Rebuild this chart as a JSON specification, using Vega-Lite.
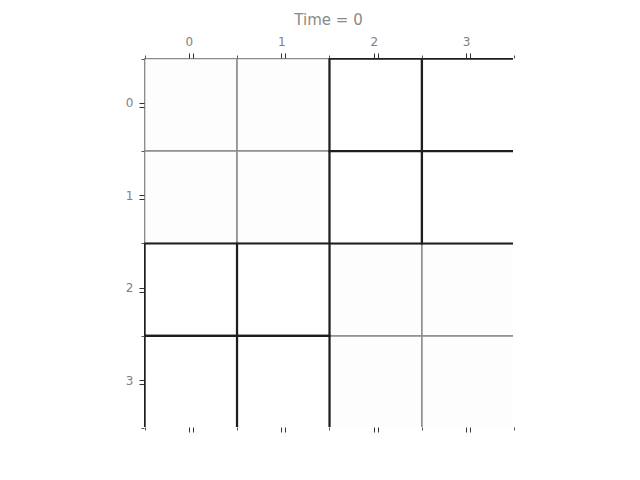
{
  "$schema": "https://vega.github.io/schema/vega-lite/v6.json",
  "width": 369,
  "height": 369,
  "autosize": {"type": "none"},
  "padding": {"left": 144, "top": 58, "right": 127, "bottom": 53},
  "background": "white",
  "title": {"text": "Time = 0", "anchor": "middle", "font": "DejaVu Sans", "fontSize": 15, "fontWeight": "normal", "color": "#8a8a8a", "offset": 7},
  "config": {"view": {"stroke": null, "fill": "#fdfdfd"}, "axis": {"grid": false, "domain": false, "labelFont": "DejaVu Sans", "labelFontSize": 12, "labelColor": "#808080", "tickColor": "#333333", "tickWidth": 1, "title": null, "labelAngle": 0}},
  "data": {"values": [
    {"row": 0, "col": 0, "kind": "gray"}, {"row": 0, "col": 1, "kind": "gray"}, {"row": 0, "col": 2, "kind": "black"}, {"row": 0, "col": 3, "kind": "black"},
    {"row": 1, "col": 0, "kind": "gray"}, {"row": 1, "col": 1, "kind": "gray"}, {"row": 1, "col": 2, "kind": "black"}, {"row": 1, "col": 3, "kind": "black"},
    {"row": 2, "col": 0, "kind": "black"}, {"row": 2, "col": 1, "kind": "black"}, {"row": 2, "col": 2, "kind": "gray"}, {"row": 2, "col": 3, "kind": "gray"},
    {"row": 3, "col": 0, "kind": "black"}, {"row": 3, "col": 1, "kind": "black"}, {"row": 3, "col": 2, "kind": "gray"}, {"row": 3, "col": 3, "kind": "gray"}
  ]},
  "resolve": {"axis": {"x": "independent", "y": "independent"}},
  "layer": [
    {
      "transform": [{"filter": "datum.kind == 'gray'"}],
      "mark": {"type": "rect", "fill": "#fdfdfd", "stroke": "#8c8c8c", "strokeWidth": 1.5, "clip": true},
      "encoding": {
        "x": {"field": "col", "type": "ordinal", "scale": {"paddingInner": 0, "paddingOuter": 0, "range": [0.6, 370.4]}, "axis": {"orient": "top", "tickOffset": -2, "tickSize": 5, "labelPadding": 5}},
        "y": {"field": "row", "type": "ordinal", "scale": {"paddingInner": 0, "paddingOuter": 0, "range": [0.6, 370.4]}, "axis": {"orient": "left", "tickOffset": -2, "tickSize": 5, "labelPadding": 6}}
      }
    },
    {
      "transform": [{"filter": "datum.kind == 'black'"}],
      "mark": {"type": "rect", "fill": "#ffffff", "stroke": "#1e1e1e", "strokeWidth": 2.2, "clip": true},
      "encoding": {
        "x": {"field": "col", "type": "ordinal", "axis": {"orient": "top", "tickOffset": 2, "tickSize": 5, "labels": false}},
        "y": {"field": "row", "type": "ordinal", "axis": {"orient": "left", "tickOffset": 2, "tickSize": 5, "labels": false}}
      }
    },
    {
      "transform": [{"filter": "datum.kind == 'none'"}],
      "mark": {"type": "rect"},
      "encoding": {
        "x": {"field": "col", "type": "ordinal", "axis": {"orient": "bottom", "tickOffset": -2, "tickSize": 5, "labels": false}},
        "y": {"field": "row", "type": "ordinal", "axis": null}
      }
    },
    {
      "transform": [{"filter": "datum.kind == 'none'"}],
      "mark": {"type": "rect"},
      "encoding": {
        "x": {"field": "col", "type": "ordinal", "axis": {"orient": "bottom", "tickOffset": 2, "tickSize": 5, "labels": false}},
        "y": {"field": "row", "type": "ordinal", "axis": null}
      }
    },
    {
      "transform": [{"filter": "datum.kind == 'none'"}],
      "mark": {"type": "rect"},
      "encoding": {
        "x": {"field": "col", "type": "ordinal", "axis": {"orient": "top", "tickBand": "extent", "tickSize": 3, "tickColor": "#555555", "labels": false}},
        "y": {"field": "row", "type": "ordinal", "axis": null}
      }
    },
    {
      "transform": [{"filter": "datum.kind == 'none'"}],
      "mark": {"type": "rect"},
      "encoding": {
        "x": {"field": "col", "type": "ordinal", "axis": {"orient": "bottom", "tickBand": "extent", "tickSize": 3, "tickColor": "#555555", "labels": false}},
        "y": {"field": "row", "type": "ordinal", "axis": null}
      }
    },
    {
      "transform": [{"filter": "datum.kind == 'none'"}],
      "mark": {"type": "rect"},
      "encoding": {
        "x": {"field": "col", "type": "ordinal", "axis": null},
        "y": {"field": "row", "type": "ordinal", "axis": {"orient": "left", "tickBand": "extent", "tickSize": 3, "tickColor": "#555555", "labels": false}}
      }
    }
  ]
}
